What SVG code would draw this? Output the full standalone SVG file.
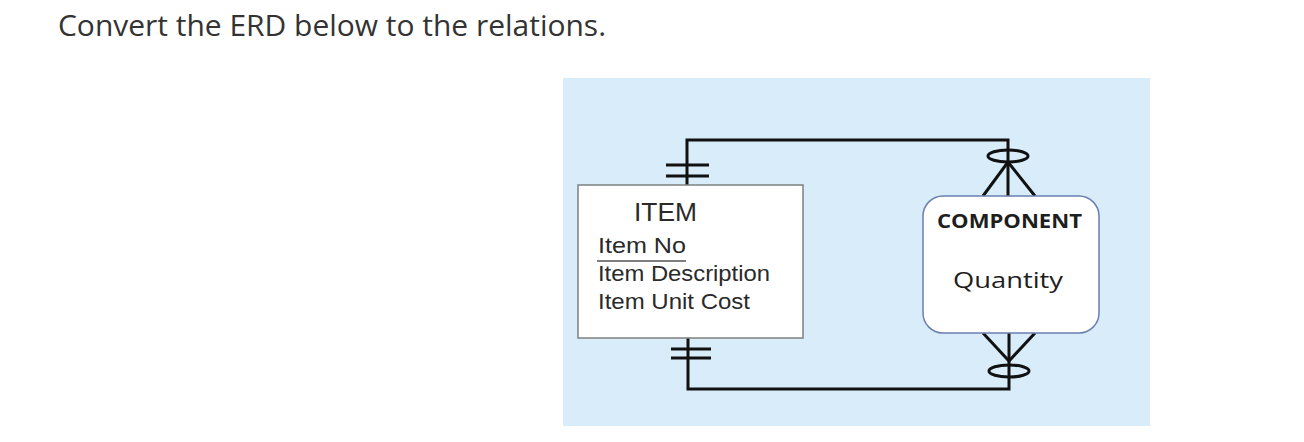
<svg xmlns="http://www.w3.org/2000/svg" width="1304" height="442" viewBox="0 0 1304 442">
<style>
.title{font-family:"Open Sans",sans-serif;font-size:29px;fill:#333333}
.ln{fill:none;stroke:#111111;stroke-width:3}
.ent{font-family:"Liberation Sans",Arial,sans-serif;fill:#2a2a2a}
.cmp{font-family:"Open Sans","Liberation Sans",sans-serif;fill:#1e1e1e}
</style>
<rect width="1304" height="442" fill="#ffffff"/>
<text class="title" x="58" y="36" textLength="548" lengthAdjust="spacingAndGlyphs">Convert the ERD below to the relations.</text>
<rect x="563" y="78" width="587" height="348" fill="#d9ecf9"/>
<g id="connectors">
  <polyline class="ln" points="687,185 687,140 1008,140 1008,196"/>
  <line class="ln" x1="666" y1="165" x2="709" y2="165"/>
  <line class="ln" x1="666" y1="176" x2="709" y2="176"/>
  <ellipse class="ln" cx="1008" cy="156" rx="20" ry="6"/>
  <polyline class="ln" points="983,196 1008,162 1035,196"/>
  <polyline class="ln" points="688,338 688,389 1009,389 1009,333"/>
  <line class="ln" x1="671" y1="349" x2="711" y2="349"/>
  <line class="ln" x1="671" y1="358" x2="711" y2="358"/>
  <ellipse class="ln" cx="1009" cy="371" rx="20" ry="6"/>
  <polyline class="ln" points="983,333 1009,361 1035,333"/>
</g>
<g id="item">
  <rect x="578" y="185" width="225" height="153" fill="#ffffff" stroke="#7f7f7f" stroke-width="1.5"/>
  <text class="ent" x="634" y="221" font-size="25" textLength="63" lengthAdjust="spacingAndGlyphs">ITEM</text>
  <text class="ent" x="598" y="253" font-size="22" textLength="88" lengthAdjust="spacingAndGlyphs">Item No</text>
  <line x1="597" y1="261" x2="686" y2="261" stroke="#555555" stroke-width="1.5"/>
  <text class="ent" x="598" y="281" font-size="22" textLength="172" lengthAdjust="spacingAndGlyphs">Item Description</text>
  <text class="ent" x="598" y="309" font-size="22" textLength="152" lengthAdjust="spacingAndGlyphs">Item Unit Cost</text>
</g>
<g id="component">
  <rect x="923" y="196" width="176" height="137" rx="20" ry="20" fill="#ffffff" stroke="#6a7fb0" stroke-width="1.5"/>
  <text class="cmp" x="937" y="228" font-size="20" font-weight="bold" textLength="145" lengthAdjust="spacingAndGlyphs">COMPONENT</text>
  <text class="cmp" x="953" y="288" font-size="21" textLength="110" lengthAdjust="spacingAndGlyphs">Quantity</text>
</g>
</svg>
